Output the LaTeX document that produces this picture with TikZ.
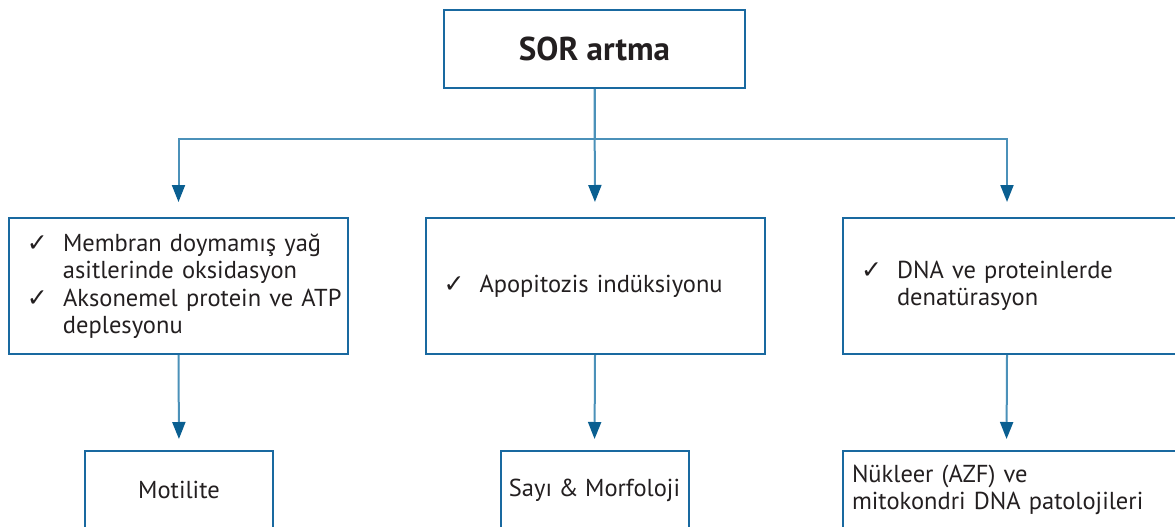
\documentclass[tikz,border=0pt]{standalone}
\usepackage{fontspec}
\usepackage{tikz}
\usetikzlibrary{arrows.meta}
\setmainfont{PT Sans}
\newfontfamily\checkfont{DejaVu Sans}
\definecolor{boxblue}{RGB}{25,105,160}
\definecolor{lineblue}{RGB}{75,145,185}
\definecolor{tipblue}{RGB}{10,95,145}
\definecolor{textgray}{RGB}{35,31,32}
\newcommand{\chk}{\makebox[36pt][l]{\checkfont\fontsize{25}{27}\selectfont\char"2713}}
\newcommand{\ind}{\hspace*{36pt}}

\begin{document}
\begin{tikzpicture}[x=1pt,y=-1pt,
	box/.style={draw=boxblue,line width=2pt,inner sep=0pt,text=textgray,font=\fontsize{24.5}{27.5}\selectfont},
	topbox/.style={box,minimum width=301pt,minimum height=78pt,font=\fontsize{33}{36}\selectfont\bfseries},
	listbox/.style={box,text width=303pt,inner xsep=18pt,minimum height=136pt,align=left},
	endbox/.style={box,minimum width=188pt,minimum height=78pt,align=center},
	conn/.style={draw=lineblue,line width=2pt},
	arr/.style={conn,-{Triangle[length=17pt,width=13pt,color=tipblue]}}]
	
	\useasboundingbox (0,0) rectangle (1175,527);
	
	\node[topbox] (sor) at (594.5,49) {SOR artma};
	
	\node[listbox] (membran) at (178.5,286) {\mbox{\chk Membran doymamış yağ}\\ \mbox{\ind asitlerinde oksidasyon}\\ \mbox{\chk Aksonemel protein ve ATP}\\ \mbox{\ind deplesyonu}};
	\node[listbox] (apop) at (595,286) {\mbox{\chk Apopitozis indüksiyonu}};
	\node[listbox,anchor=west] (dna) at (842,286) {\mbox{\chk DNA ve proteinlerde}\\ \mbox{\ind denatürasyon}};
	
	\node[endbox] (motil) at (179,490) {Motilite};
	\node[endbox] (sayi) at (594.5,490) {Sayı \& Morfoloji};
	\node[endbox,anchor=west,text width=320pt,inner xsep=9pt,align=left] (nukleer) at (842,490) {Nükleer (AZF) ve\\ mitokondri DNA patolojileri};
	
	\draw[arr,shorten >=15pt] (sor.south) -- ++(0,50) -| (membran.north);
	\draw[arr,shorten >=15pt] (sor.south) -- ++(0,50) -| ([xshift=-5.5pt]dna.north);
	\draw[arr,shorten >=15pt] (sor.south) -- (apop.north);
	
	\draw[arr,shorten >=11pt] (membran.south) -- (motil.north);
	\draw[arr,shorten >=11pt] (apop.south) -- (sayi.north);
	\draw[arr,shorten >=11pt] ([xshift=-5.5pt]dna.south) -- ([xshift=-5.5pt]nukleer.north);
	
\end{tikzpicture}
\end{document}
